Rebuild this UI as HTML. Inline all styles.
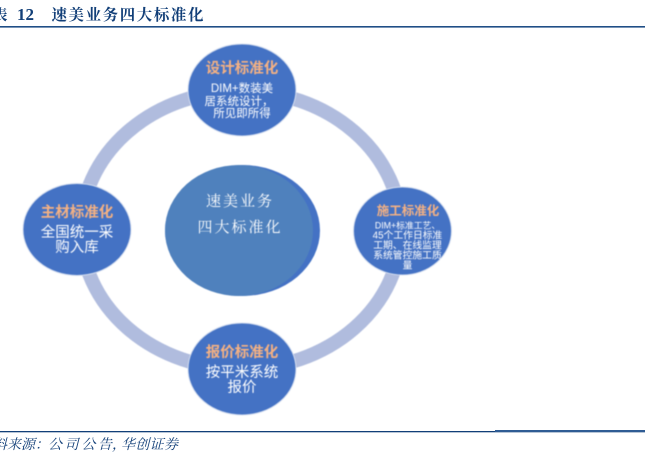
<!DOCTYPE html>
<html><head><meta charset="utf-8">
<style>
html,body{margin:0;padding:0;background:#fff;width:645px;height:460px;overflow:hidden}
svg{display:block}
text{font-family:"Liberation Sans","Noto Sans CJK SC",sans-serif;text-anchor:middle}
.s{font-family:"Liberation Serif","Noto Serif CJK SC",serif}
.h{fill:#F4B183;font-weight:700;font-size:14.5px}
.w{fill:#fff}
.d{filter:blur(0.4px)}
.src{text-anchor:start;font-size:14px;font-style:italic;fill:#123F78}
</style></head><body>
<svg width="645" height="460" viewBox="0 0 645 460" xmlns="http://www.w3.org/2000/svg">
<rect width="645" height="460" fill="#fff"/>
<text class="s" x="0" y="20" font-size="15" font-weight="700" fill="#123F78">表</text>
<text class="s" x="25.500" y="20" font-size="17" font-weight="700" fill="#123F78">12</text>
<text class="s" x="127.500" y="20" font-size="15.500" font-weight="700" fill="#123F78" textLength="152" lengthAdjust="spacing">速美业务四大标准化</text>
<rect x="0" y="26" width="645" height="1.600" fill="#1F4E86"/>

<g class="d">
<ellipse cx="241" cy="230" rx="160" ry="139" fill="none" stroke="#B0BCDE" stroke-width="14"/>

<ellipse cx="242.500" cy="230.500" rx="77.500" ry="65.500" fill="#4472C4"/>
<ellipse cx="239" cy="230.500" rx="74" ry="65.500" fill="#4F81BD"/>
<text class="s w" x="239" y="206" font-size="15" textLength="66" lengthAdjust="spacing">速美业务</text>
<text class="s w" x="239" y="232" font-size="15" textLength="83" lengthAdjust="spacing">四大标准化</text>

<ellipse cx="242" cy="90" rx="54" ry="46" fill="#4472C4" stroke="#D5DEEF" stroke-width="1"/>
<text class="h" x="242" y="73">设计标准化</text>
<text class="w" x="242" y="92" font-size="11.500">DIM+数装美</text>
<text class="w" x="239" y="105" font-size="11.500">居系统设计，</text>
<text class="w" x="242" y="117" font-size="11.500">所见即所得</text>

<ellipse cx="242" cy="369" rx="54" ry="46" fill="#4472C4" stroke="#D5DEEF" stroke-width="1"/>
<text class="h" x="242" y="357">报价标准化</text>
<text class="w" x="242" y="377" font-size="14.500">按平米系统</text>
<text class="w" x="242" y="392" font-size="14.500">报价</text>

<ellipse cx="77" cy="229.500" rx="54" ry="46" fill="#4472C4" stroke="#D5DEEF" stroke-width="1"/>
<text class="h" x="77" y="217">主材标准化</text>
<text class="w" x="77" y="237" font-size="14.500">全国统一采</text>
<text class="w" x="77" y="252" font-size="14.500">购入库</text>

<ellipse cx="402.500" cy="231" rx="49" ry="44" fill="#4472C4" stroke="#D5DEEF" stroke-width="1"/>
<text class="h" x="408" y="215" style="font-size:12.500px">施工标准化</text>
<text class="w" x="407.500" y="228.500" font-size="8.800">DIM+标准工艺、</text>
<text class="w" x="407.500" y="238.500" font-size="9.800">45个工作日标准</text>
<text class="w" x="407.500" y="248.500" font-size="9.800">工期、在线监理</text>
<text class="w" x="407.500" y="258.500" font-size="9.800">系统管控施工质</text>
<text class="w" x="407.500" y="268.500" font-size="9.800">量</text>
</g>

<rect x="0" y="431" width="645" height="1.300" fill="#123F78"/>
<rect x="495" y="430" width="150" height="2" fill="#2F5C94"/>
<text class="s src" x="-7" y="449">料来源：</text>
<text class="s src" x="48" y="449" textLength="64" lengthAdjust="spacing">公司公告</text>
<text class="s src" x="112" y="449">，</text>
<text class="s src" x="121" y="449" textLength="57" lengthAdjust="spacing">华创证券</text>
</svg>
</body></html>
